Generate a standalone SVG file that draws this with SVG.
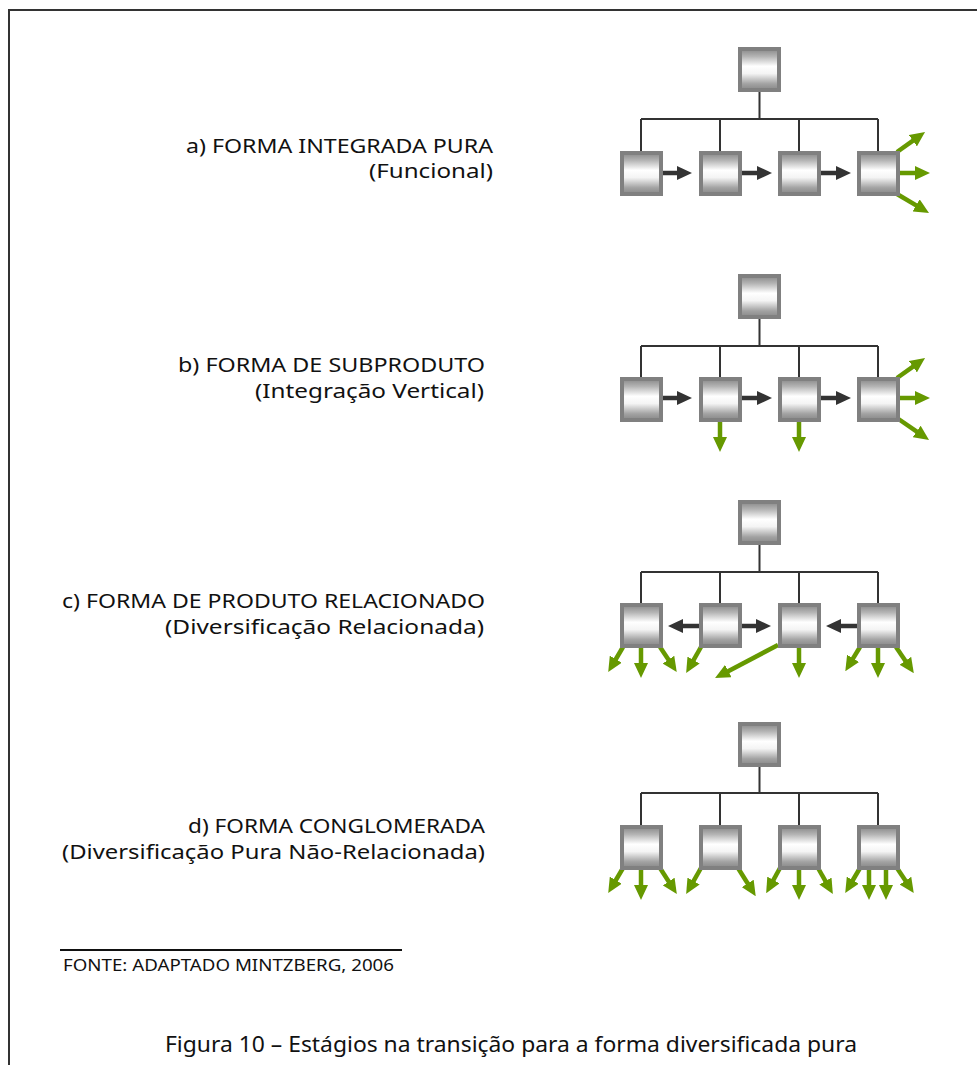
<svg xmlns="http://www.w3.org/2000/svg" width="977" height="1065" viewBox="0 0 977 1065">
<defs>
<linearGradient id="boxg" x1="0" y1="0" x2="0" y2="1">
<stop offset="0" stop-color="#888888"/>
<stop offset="0.18" stop-color="#b4b4b4"/>
<stop offset="0.42" stop-color="#ffffff"/>
<stop offset="0.6" stop-color="#f4f4f4"/>
<stop offset="0.85" stop-color="#a2a2a2"/>
<stop offset="1" stop-color="#888888"/>
</linearGradient>
<marker id="ad" markerUnits="userSpaceOnUse" markerWidth="15" markerHeight="14" refX="5" refY="7" orient="auto" viewBox="0 0 15 14">
<path d="M0,0 L15,7 L0,14 z" fill="#333333"/>
</marker>
<marker id="ag" markerUnits="userSpaceOnUse" markerWidth="15" markerHeight="14" refX="5" refY="7" orient="auto" viewBox="0 0 15 14">
<path d="M0,0 L15,7 L0,14 z" fill="#669900"/>
</marker>
</defs>
<style>
.box{fill:url(#boxg);stroke:#808080;stroke-width:4}
.tree{fill:none;stroke:#333333;stroke-width:2}
.da{stroke:#333333;stroke-width:4.5;marker-end:url(#ad)}
.ga{stroke:#669900;stroke-width:4.5;marker-end:url(#ag)}
.lbl{font-family:"Noto Sans","DejaVu Sans",sans-serif;font-size:20px;fill:#111111;text-anchor:end}
.cap{font-family:"Noto Sans","DejaVu Sans",sans-serif;font-size:21px;fill:#111111}
.src{font-family:"Noto Sans","DejaVu Sans",sans-serif;font-size:16px;fill:#111111}
</style>
<rect width="977" height="1065" fill="#ffffff"/>
<path d="M9,1065 V10 H977" fill="none" stroke="#333333" stroke-width="2"/>

<g id="labels">
<text class="lbl" x="493" y="153" textLength="307" lengthAdjust="spacingAndGlyphs">a) FORMA INTEGRADA PURA</text>
<text class="lbl" x="493" y="178" textLength="124" lengthAdjust="spacingAndGlyphs">(Funcional)</text>
<text class="lbl" x="485" y="372" textLength="307" lengthAdjust="spacingAndGlyphs">b) FORMA DE SUBPRODUTO</text>
<text class="lbl" x="484" y="398" textLength="229" lengthAdjust="spacingAndGlyphs">(Integração Vertical)</text>
<text class="lbl" x="485" y="608" textLength="423" lengthAdjust="spacingAndGlyphs">c) FORMA DE PRODUTO RELACIONADO</text>
<text class="lbl" x="484" y="634" textLength="319" lengthAdjust="spacingAndGlyphs">(Diversificação Relacionada)</text>
<text class="lbl" x="485" y="833" textLength="297" lengthAdjust="spacingAndGlyphs">d) FORMA CONGLOMERADA</text>
<text class="lbl" x="485" y="859" textLength="423" lengthAdjust="spacingAndGlyphs">(Diversificação Pura Não-Relacionada)</text>
</g>

<g id="connectors">
<path class="tree" d="M759.5,92 V119 M641,119 H878 M641,119 V151 M720,119 V151 M799,119 V151 M878,119 V151"/>
<path class="tree" d="M759.5,318 V346 M641,346 H878 M641,346 V377 M720,346 V377 M799,346 V377 M878,346 V377"/>
<path class="tree" d="M759.5,545 V572 M641,572 H878 M641,572 V603 M720,572 V603 M799,572 V603 M878,572 V603"/>
<path class="tree" d="M759.5,767 V793 M641,793 H878 M641,793 V825 M720,793 V825 M799,793 V825 M878,793 V825"/>

<line class="da" x1="663" y1="173" x2="682" y2="173"/>
<line class="da" x1="742" y1="173" x2="762" y2="173"/>
<line class="da" x1="820" y1="173" x2="841" y2="173"/>
<line class="ga" x1="897" y1="152" x2="916.9" y2="137.8"/>
<line class="ga" x1="899" y1="173" x2="920" y2="173"/>
<line class="ga" x1="897" y1="194" x2="920.4" y2="207.9"/>

<line class="da" x1="663" y1="398" x2="682" y2="398"/>
<line class="da" x1="742" y1="398" x2="762" y2="398"/>
<line class="da" x1="820" y1="398" x2="841" y2="398"/>
<line class="ga" x1="897" y1="378" x2="916.9" y2="363.8"/>
<line class="ga" x1="899" y1="398" x2="920" y2="398"/>
<line class="ga" x1="897" y1="418" x2="920.8" y2="434.3"/>
<line class="ga" x1="720" y1="422" x2="720" y2="442"/>
<line class="ga" x1="799" y1="422" x2="799" y2="442"/>

<line class="da" x1="699" y1="626" x2="678" y2="626"/>
<line class="da" x1="742" y1="626" x2="761" y2="626"/>
<line class="da" x1="857" y1="626" x2="836" y2="626"/>
<line class="ga" x1="623" y1="647" x2="613.3" y2="663.5"/>
<line class="ga" x1="641" y1="648" x2="641" y2="668"/>
<line class="ga" x1="660" y1="647" x2="671.2" y2="663.8"/>
<line class="ga" x1="701" y1="647" x2="691.1" y2="664.4"/>
<line class="ga" x1="778" y1="645" x2="723.9" y2="673.4"/>
<line class="ga" x1="799" y1="648" x2="799" y2="668"/>
<line class="ga" x1="860" y1="647" x2="850.5" y2="662.6"/>
<line class="ga" x1="878" y1="648" x2="878" y2="668"/>
<line class="ga" x1="896" y1="647" x2="908.2" y2="664.9"/>

<line class="ga" x1="623" y1="868" x2="613.3" y2="884.5"/>
<line class="ga" x1="641" y1="869" x2="641" y2="890"/>
<line class="ga" x1="660" y1="868" x2="671.4" y2="885.7"/>
<line class="ga" x1="701" y1="868" x2="691.1" y2="885.4"/>
<line class="ga" x1="738" y1="868" x2="750.4" y2="887.7"/>
<line class="ga" x1="780" y1="868" x2="771" y2="884.4"/>
<line class="ga" x1="799" y1="869" x2="799" y2="890"/>
<line class="ga" x1="818" y1="868" x2="827.9" y2="885.4"/>
<line class="ga" x1="860" y1="868" x2="850.3" y2="884.5"/>
<line class="ga" x1="869" y1="869" x2="869" y2="890"/>
<line class="ga" x1="886" y1="869" x2="886" y2="890"/>
<line class="ga" x1="897" y1="868" x2="908.2" y2="884.8"/>
</g>

<g id="nodes-a">
<rect id="a-top" class="box" x="740" y="49" width="39" height="41"/>
<rect id="a-1" class="box" x="622" y="153" width="39" height="41"/>
<rect id="a-2" class="box" x="701" y="153" width="39" height="41"/>
<rect id="a-3" class="box" x="780" y="153" width="39" height="41"/>
<rect id="a-4" class="box" x="859" y="153" width="39" height="41"/>
</g>
<g id="nodes-b">
<rect id="b-top" class="box" x="740" y="276" width="39" height="41"/>
<rect id="b-1" class="box" x="622" y="379" width="39" height="41"/>
<rect id="b-2" class="box" x="701" y="379" width="39" height="41"/>
<rect id="b-3" class="box" x="780" y="379" width="39" height="41"/>
<rect id="b-4" class="box" x="859" y="379" width="39" height="41"/>
</g>
<g id="nodes-c">
<rect id="c-top" class="box" x="740" y="502" width="39" height="41"/>
<rect id="c-1" class="box" x="622" y="605" width="39" height="41"/>
<rect id="c-2" class="box" x="701" y="605" width="39" height="41"/>
<rect id="c-3" class="box" x="780" y="605" width="39" height="41"/>
<rect id="c-4" class="box" x="859" y="605" width="39" height="41"/>
</g>
<g id="nodes-d">
<rect id="d-top" class="box" x="740" y="724" width="39" height="41"/>
<rect id="d-1" class="box" x="622" y="827" width="39" height="41"/>
<rect id="d-2" class="box" x="701" y="827" width="39" height="41"/>
<rect id="d-3" class="box" x="780" y="827" width="39" height="41"/>
<rect id="d-4" class="box" x="859" y="827" width="39" height="41"/>
</g>

<g id="source">
<line x1="60" y1="950" x2="402" y2="950" stroke="#111111" stroke-width="2"/>
<text class="src" x="63" y="971" textLength="331" lengthAdjust="spacingAndGlyphs">FONTE: ADAPTADO MINTZBERG, 2006</text>
</g>
<text class="cap" x="165" y="1052" textLength="692" lengthAdjust="spacingAndGlyphs">Figura 10 – Estágios na transição para a forma diversificada pura</text>
</svg>
